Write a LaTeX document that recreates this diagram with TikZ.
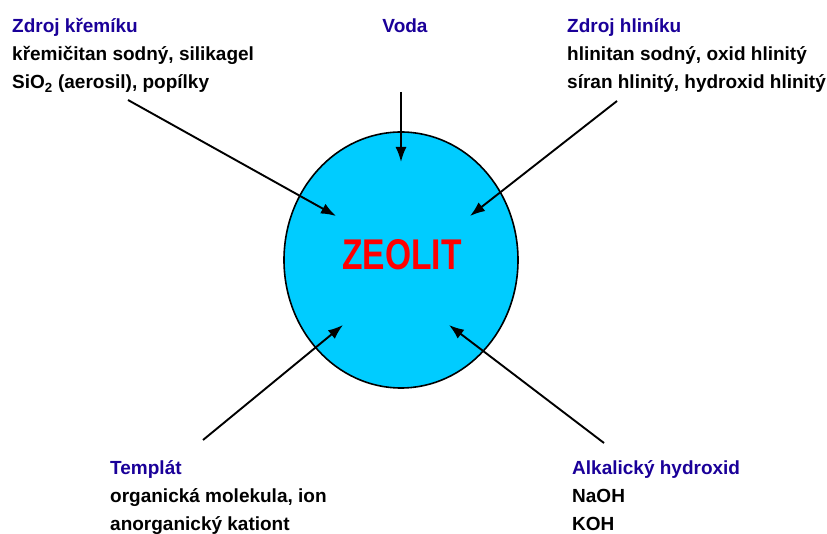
\documentclass[tikz,border=0pt]{standalone}
\usepackage{fontspec}
\setmainfont{Liberation Sans}
\newfontfamily\narrowfont[FakeStretch=0.78]{Liberation Sans}
\usepackage{tikz}
\usetikzlibrary{arrows.meta, shapes.geometric}
\definecolor{titleblue}{RGB}{26,0,153}
\definecolor{zeocyan}{RGB}{0,204,255}

\begin{document}
\begin{tikzpicture}[x=1pt, y=-1pt,
        src/.style={anchor=base west, inner sep=0pt, align=left, font=\fontsize{19}{28}\selectfont\bfseries},
        feed/.style={-{Latex[length=15pt, width=11pt]}, line width=1.9pt}]
            \useasboundingbox (0,0) rectangle (827,534);
            \def\rx{234pt}
            \def\ry{256pt}
            \node[ellipse, draw=black, line width=1.6pt, fill=zeocyan, minimum width=\rx, minimum height=\ry, inner sep=0pt] (zeolit) at (401,260) {};
            \node[text=red, font=\narrowfont\fontsize{43}{43}\selectfont\bfseries] (zeotext) at (402,255) {ZEOLIT};
            % zdroje (base = posledni radek)
            \node[src] (kremik) at (12,89) {\textcolor{titleblue}{Zdroj křemíku}\\křemičitan sodný, silikagel\\SiO\textsubscript{2} (aerosil), popílky};
            \node[src, anchor=base] (voda) at (405,33) {\textcolor{titleblue}{Voda}};
            \node[src] (hlinik) at (567,89) {\textcolor{titleblue}{Zdroj hliníku}\\hlinitan sodný, oxid hlinitý\\síran hlinitý, hydroxid hlinitý};
            \node[src] (templat) at (110,530) {\textcolor{titleblue}{Templát}\\organická molekula, ion\\anorganický kationt};
            \node[src] (hydroxid) at (572,530) {\textcolor{titleblue}{Alkalický hydroxid}\\NaOH\\KOH};
            % sipky
            \coordinate (kremik-a) at (128,100);
            \coordinate (kremik-b) at (336,216);
            \coordinate (voda-a) at (401,92);
            \coordinate (voda-b) at (401,162);
            \coordinate (hlinik-a) at (617,101);
            \coordinate (hlinik-b) at (470,216);
            \coordinate (templat-a) at (203,440);
            \coordinate (templat-b) at (343,325);
            \coordinate (hydroxid-a) at (604,443);
            \coordinate (hydroxid-b) at (449,325);
            \draw[feed] (kremik-a) -- (kremik-b);
            \draw[feed] (voda-a) -- (voda-b);
            \draw[feed] (hlinik-a) -- (hlinik-b);
            \draw[feed] (templat-a) -- (templat-b);
            \draw[feed] (hydroxid-a) -- (hydroxid-b);
        \end{tikzpicture}
\end{document}
